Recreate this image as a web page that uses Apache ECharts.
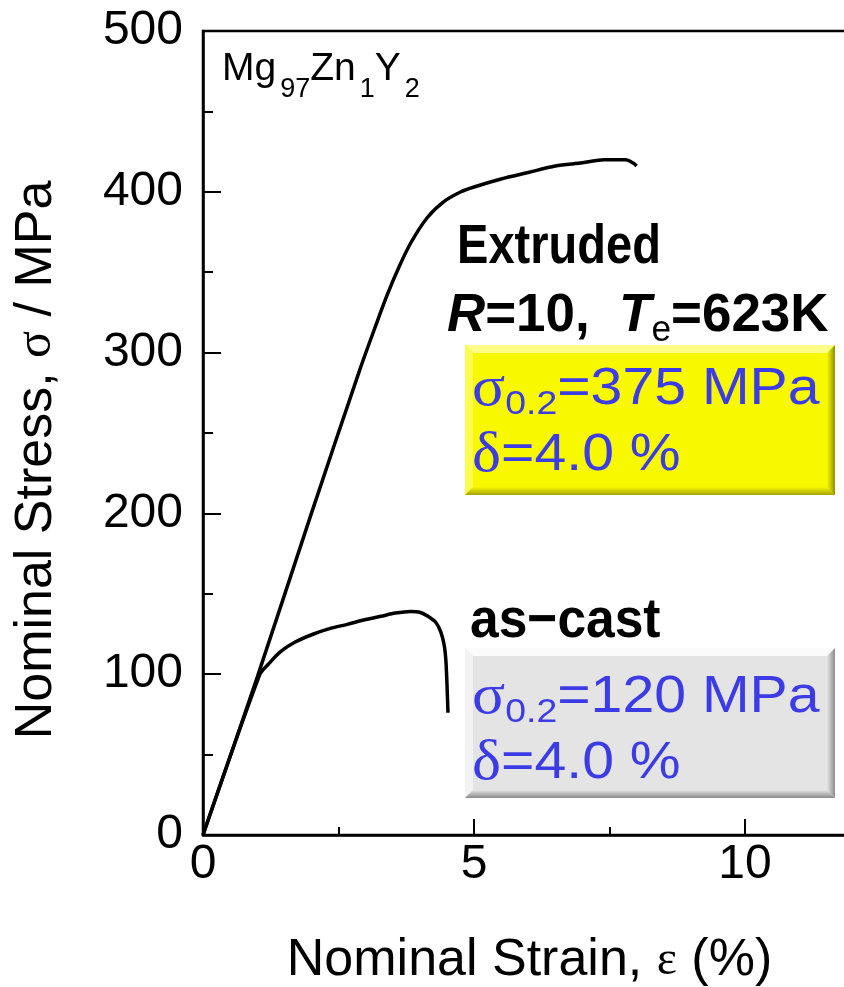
<!DOCTYPE html>
<html>
<head>
<meta charset="utf-8">
<script src="https://cdn.jsdelivr.net/npm/echarts@6/dist/echarts.min.js"></script>
<style>
  html, body { margin: 0; padding: 0; background: #fff; }
  #chart { width: 844px; height: 987px; }
</style>
</head>
<body>
<div id="chart"></div>
<script>
// Tensile curves of Mg97Zn1Y2 (strain in %, stress in MPa)
const extrudedStrain = [0, 1.0, 2.0, 2.9, 3.2, 3.4, 3.6, 3.83, 4.14, 4.45, 4.76, 5.0, 5.5, 6.0, 6.5, 7.0, 7.4, 7.8, 7.93, 8.0];
const extrudedStress = [0, 98, 200, 290, 318, 336, 352, 368, 384, 394, 400, 403, 408, 412, 416, 418, 420, 420, 418, 416];

const castStrain = [0, 1.05, 1.2, 1.43, 1.7, 2.04, 2.35, 2.66, 3.0, 3.28, 3.55, 3.83, 4.0, 4.15, 4.3, 4.39, 4.45, 4.48, 4.5, 4.52];
const castStress = [0, 100, 106, 114, 120, 125, 128.5, 131, 134, 136, 138, 139, 138.5, 136, 132, 126, 118, 109, 95, 76];

// Axis settings
const xRange = [0, 15];
const xStep = 5;
const yRange = [0, 500];
const yStep = 100;

const pairs = (xs, ys) => xs.map((x, i) => [x, ys[i]]);

const chart = echarts.init(document.getElementById('chart'), null, { renderer: 'canvas' });

const blue = '#3c3ce6';
const sansFont = 'Liberation Sans, Arial, sans-serif';
const serifFont = 'Liberation Serif, Times New Roman, serif';

// Bevelled panel drawn as a base rectangle plus four edge strips
function bevelBox(x, y, w, h, b, c) {
  return [
    { type: 'rect', shape: { x: x, y: y, width: w, height: h }, style: { fill: c.base }, z: 10 },
    { type: 'polygon', shape: { points: [[x, y], [x + w, y], [x + w - b, y + b], [x + b, y + b]] },
      style: { fill: c.top }, z: 11 },
    { type: 'polygon', shape: { points: [[x, y], [x + b, y + b], [x + b, y + h - b], [x, y + h]] },
      style: { fill: c.left }, z: 11 },
    { type: 'polygon', shape: { points: [[x + w, y], [x + w, y + h], [x + w - b, y + h - b], [x + w - b, y + b]] },
      style: { fill: new echarts.graphic.LinearGradient(0, 0, 1, 0, [{ offset: 0, color: c.base }, { offset: 1, color: c.right }]) }, z: 11 },
    { type: 'polygon', shape: { points: [[x, y + h], [x + b, y + h - b], [x + w - b, y + h - b], [x + w, y + h]] },
      style: { fill: new echarts.graphic.LinearGradient(0, 0, 0, 1, [{ offset: 0, color: c.base }, { offset: 1, color: c.bottom }]) }, z: 11 }
  ];
}

function propText(x, y, l1, l2) {
  const rich = {
    g: { fontFamily: serifFont, fontSize: 56, fill: blue },
    s: { fontFamily: sansFont, fontSize: 34, fill: blue, padding: [30, 0, 0, 0] },
    t: { fontFamily: sansFont, fontSize: 52, fill: blue }
  };
  return [
    { type: 'text', x: x, y: y, scaleX: 1.1, z: 20,
      style: { text: l1, rich: rich, textAlign: 'left', textVerticalAlign: 'middle', fill: blue } },
    { type: 'text', x: x, y: y + 66, scaleX: 1.1, z: 20,
      style: { text: l2, rich: rich, textAlign: 'left', textVerticalAlign: 'middle', fill: blue } }
  ];
}

const yellow = { base: '#f8f800', top: '#ffff8a', left: '#fbfb50', right: '#8f8f00', bottom: '#a3a300' };
const grey = { base: '#e4e4e4', top: '#fbfbfb', left: '#f3f3f3', right: '#8c8c8c', bottom: '#8a8a8a' };

const graphics = [].concat(
  bevelBox(465, 345, 370, 150, 8, yellow),
  bevelBox(465, 648, 370, 150, 8, grey),
  propText(472, 390, '{g|σ}{s|0.2}{t|=375 MPa}', '{g|δ}{t|=4.0 %}'),
  propText(472, 698, '{g|σ}{s|0.2}{t|=120 MPa}', '{g|δ}{t|=4.0 %}'),
  [
    { type: 'text', x: 222, y: 69, z: 20,
      style: {
        text: '{m|Mg}{s|97}{m|Zn}{s|1}{m|Y}{s|2}', textAlign: 'left', textVerticalAlign: 'middle',
        rich: {
          m: { fontFamily: sansFont, fontSize: 39, fill: '#000' },
          s: { fontFamily: sansFont, fontSize: 27, fill: '#000', padding: [42, 0, 0, 4] }
        }
      } },
    { type: 'text', x: 457, y: 248, scaleX: 0.84, z: 20,
      style: { text: 'Extruded', fontFamily: sansFont, fontWeight: 'bold', fontSize: 56, fill: '#000',
        textAlign: 'left', textVerticalAlign: 'middle' } },
    { type: 'text', x: 447, y: 316, scaleX: 0.98, z: 20,
      style: {
        text: '{i|R}{n|=10,  }{i|T}{e|e}{n|=623K}', textAlign: 'left', textVerticalAlign: 'middle',
        rich: {
          i: { fontFamily: sansFont, fontWeight: 'bold', fontStyle: 'italic', fontSize: 54, fill: '#000' },
          n: { fontFamily: sansFont, fontWeight: 'bold', fontSize: 54, fill: '#000' },
          e: { fontFamily: sansFont, fontSize: 36, fill: '#000', padding: [30, 0, 0, 0] }
        }
      } },
    { type: 'text', x: 470, y: 622, scaleX: 0.92, z: 20,
      style: { text: 'as\u2212cast', fontFamily: sansFont, fontWeight: 'bold', fontSize: 56, fill: '#000',
        textAlign: 'left', textVerticalAlign: 'middle' } }
  ]
);

const curveStyle = { color: '#000', width: 3.5 };

chart.setOption({
  backgroundColor: '#fff',
  animation: false,
  grid: {
    left: 203, top: 31, width: 813, height: 804,
    containLabel: false, outerBoundsMode: 'none',
    show: true, borderColor: '#000', borderWidth: 2.5, backgroundColor: 'transparent'
  },
  xAxis: {
    type: 'value', min: xRange[0], max: xRange[1], interval: xStep,
    name: 'Nominal Strain, {g|ε} (%)', nameLocation: 'middle', nameGap: 100,
    nameTextStyle: {
      fontFamily: sansFont, fontSize: 52, color: '#000', padding: [0, 160, 0, 0],
      rich: { g: { fontFamily: serifFont, fontSize: 48, color: '#000' } }
    },
    axisLine: { show: true, lineStyle: { color: '#000', width: 2.5 } },
    axisTick: { show: true, inside: true, length: 16, lineStyle: { color: '#000', width: 2 } },
    minorTick: { show: true, splitNumber: 2, length: 8, lineStyle: { color: '#000', width: 2 } },
    axisLabel: { fontFamily: sansFont, fontSize: 48, color: '#000', margin: 6,
      formatter: v => (v % xStep === 0 ? String(v) : '') },
    splitLine: { show: false }
  },
  yAxis: {
    type: 'value', min: yRange[0], max: yRange[1], interval: yStep,
    name: 'Nominal Stress, {g|σ} / MPa', nameLocation: 'middle', nameGap: 140, nameRotate: 90,
    nameTextStyle: {
      fontFamily: sansFont, fontSize: 52, color: '#000', padding: [0, 54, 0, 0],
      rich: { g: { fontFamily: serifFont, fontSize: 50, color: '#000' } }
    },
    axisLine: { show: true, lineStyle: { color: '#000', width: 2.5 } },
    axisTick: { show: true, inside: true, length: 18, lineStyle: { color: '#000', width: 2 } },
    minorTick: { show: true, splitNumber: 2, length: 10, lineStyle: { color: '#000', width: 2 } },
    axisLabel: { fontFamily: sansFont, fontSize: 48, color: '#000', margin: 20 },
    splitLine: { show: false }
  },
  series: [
    { name: 'Extruded', type: 'line', data: pairs(extrudedStrain, extrudedStress),
      smooth: 0.3, showSymbol: false, lineStyle: curveStyle, z: 5 },
    { name: 'as-cast', type: 'line', data: pairs(castStrain, castStress),
      smooth: 0.3, showSymbol: false, lineStyle: curveStyle, z: 5 }
  ],
  graphic: graphics
});
</script>
</body>
</html>
